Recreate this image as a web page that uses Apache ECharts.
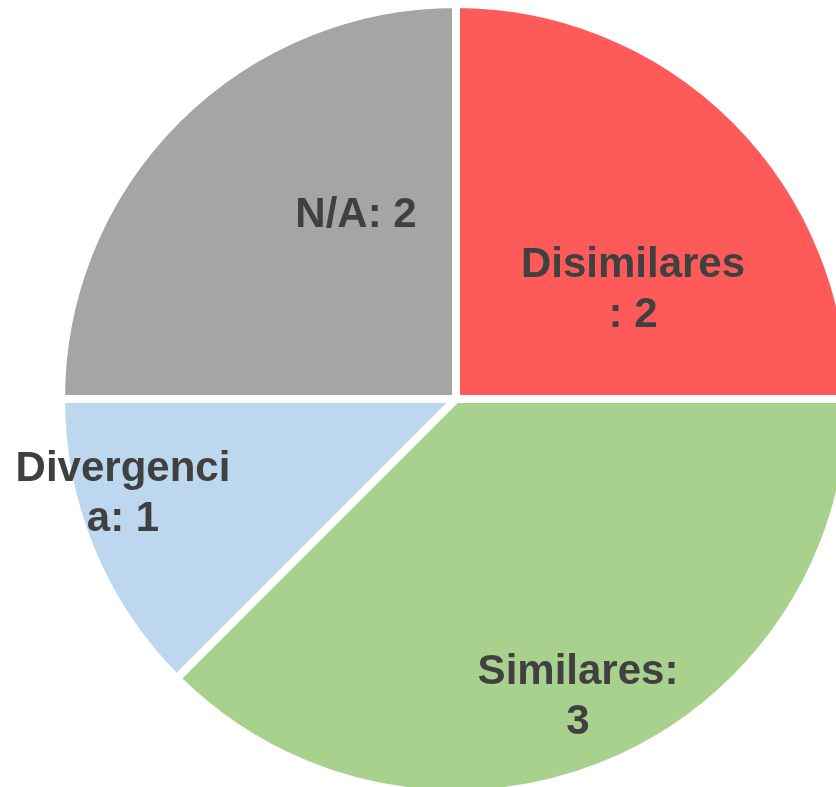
<!DOCTYPE html>
<html>
<head>
<meta charset="utf-8">
<script src="https://cdn.jsdelivr.net/npm/echarts@6/dist/echarts.min.js"></script>
<style>
  html, body { margin: 0; padding: 0; background: #fff; }
  #chart { width: 836px; height: 787px; }
</style>
</head>
<body>
<div id="chart"></div>
<script>
const categories = ['Disimilares', 'Similares', 'Divergencia', 'N/A'];
const values = [2, 3, 1, 2];
const colors = ['#FF5A5A', '#A9D18E', '#BDD7EE', '#A5A5A5'];

// where Excel wrapped each label
const labelText = [
  p => p.name + '\n: ' + p.value,
  p => p.name + ':\n' + p.value,
  p => 'Divergenci\na: ' + p.value,
  p => p.name + ': ' + p.value
];
// label centres, as offsets from the pie centre
const cx = 456, cy = 399;
const labelOffset = [[177, -109], [122, 298], [-333, 95], [-100, -184]];

const chart = echarts.init(document.getElementById('chart'));
chart.setOption({
  animation: false,
  series: [{
    type: 'pie',
    center: [cx, cy],
    radius: 395,
    startAngle: 90,
    clockwise: true,
    data: categories.map((name, i) => ({ name, value: values[i], itemStyle: { color: colors[i] } })),
    itemStyle: { borderColor: '#fff', borderWidth: 8 },
    label: {
      show: true,
      position: 'inside',
      formatter: p => labelText[p.dataIndex](p),
      fontFamily: '"Liberation Sans", Arial, sans-serif',
      fontWeight: 'bold',
      fontSize: 42,
      lineHeight: 50,
      color: '#404040',
      align: 'center'
    },
    labelLine: { show: false },
    labelLayout: p => ({
      x: cx + labelOffset[p.dataIndex][0],
      y: cy + labelOffset[p.dataIndex][1],
      align: 'center',
      verticalAlign: 'middle'
    }),
    emphasis: { disabled: true }
  }]
});
</script>
</body>
</html>
